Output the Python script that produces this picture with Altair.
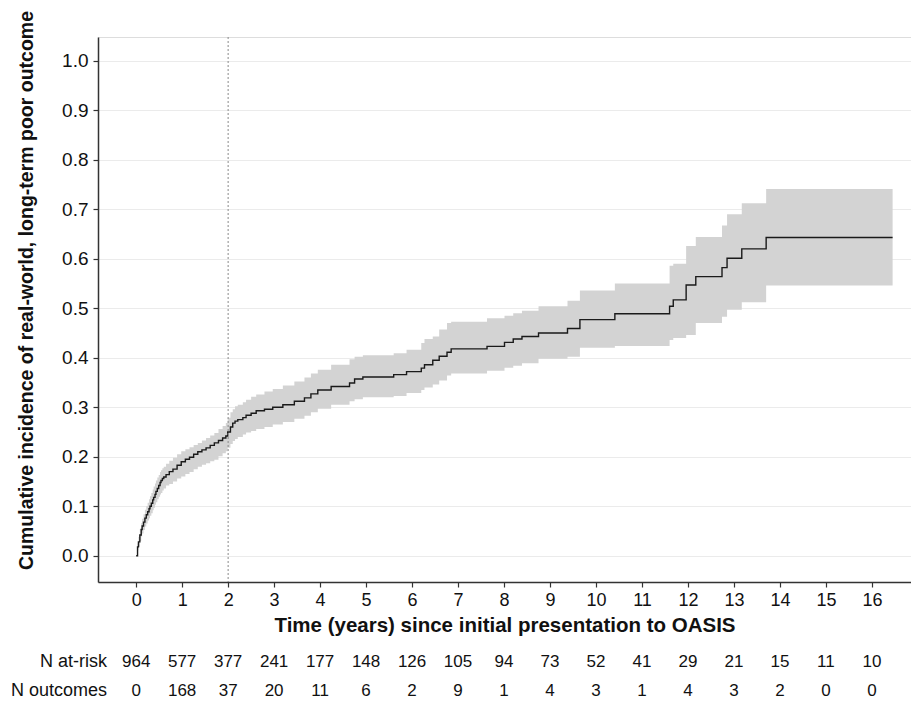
import altair as alt
import pandas as pd

# ---- data ----
time = [0.00, 0.03, 0.05, 0.08, 0.11, 0.13, 0.16, 0.19, 0.22, 0.25,
        0.28, 0.30, 0.33, 0.36, 0.38, 0.41, 0.43, 0.46, 0.49, 0.52,
        0.54, 0.57, 0.60, 0.65, 0.72, 0.80, 0.89, 0.98, 1.07, 1.16,
        1.25, 1.34, 1.43, 1.52, 1.61, 1.70, 1.79, 1.88, 1.95, 1.99,
        2.05, 2.10, 2.15, 2.21, 2.32, 2.39, 2.50, 2.61, 2.79, 2.97,
        3.19, 3.44, 3.66, 3.80, 3.95, 4.24, 4.64, 4.75, 4.93, 5.60,
        5.88, 6.20, 6.27, 6.45, 6.59, 6.76, 6.85, 7.63, 8.01, 8.20,
        8.39, 8.75, 9.38, 9.65, 10.41, 11.60, 11.68, 11.96, 12.17, 12.74,
        12.85, 13.17, 13.70, 16.45]
estimate = [0.000, 0.018, 0.028, 0.042, 0.053, 0.060, 0.068, 0.076, 0.083, 0.089,
            0.095, 0.100, 0.106, 0.113, 0.118, 0.124, 0.130, 0.136, 0.142, 0.148,
            0.152, 0.156, 0.159, 0.164, 0.170, 0.175, 0.183, 0.190, 0.195, 0.199,
            0.205, 0.210, 0.214, 0.218, 0.223, 0.228, 0.233, 0.238, 0.242, 0.250,
            0.260, 0.268, 0.272, 0.275, 0.279, 0.284, 0.288, 0.293, 0.296, 0.300,
            0.305, 0.312, 0.319, 0.327, 0.335, 0.342, 0.349, 0.357, 0.361, 0.366,
            0.372, 0.379, 0.386, 0.395, 0.403, 0.411, 0.418, 0.423, 0.431, 0.438,
            0.443, 0.450, 0.459, 0.477, 0.489, 0.504, 0.517, 0.547, 0.564, 0.582,
            0.601, 0.620, 0.643, 0.643]
ci_lower = [0.000, 0.011, 0.018, 0.030, 0.039, 0.045, 0.052, 0.059, 0.065, 0.071,
            0.076, 0.081, 0.086, 0.092, 0.097, 0.103, 0.108, 0.114, 0.119, 0.124,
            0.127, 0.132, 0.136, 0.142, 0.145, 0.150, 0.156, 0.160, 0.165, 0.169,
            0.175, 0.180, 0.184, 0.187, 0.191, 0.194, 0.201, 0.207, 0.211, 0.218,
            0.226, 0.232, 0.236, 0.240, 0.245, 0.249, 0.252, 0.256, 0.260, 0.265,
            0.270, 0.277, 0.283, 0.290, 0.297, 0.305, 0.312, 0.316, 0.320, 0.323,
            0.329, 0.335, 0.340, 0.346, 0.354, 0.364, 0.368, 0.374, 0.380, 0.384,
            0.389, 0.398, 0.402, 0.420, 0.424, 0.436, 0.440, 0.446, 0.470, 0.483,
            0.497, 0.512, 0.546, 0.546]
ci_upper = [0.000, 0.025, 0.038, 0.054, 0.066, 0.075, 0.084, 0.093, 0.100, 0.107,
            0.114, 0.120, 0.127, 0.134, 0.140, 0.146, 0.152, 0.158, 0.163, 0.169,
            0.173, 0.177, 0.180, 0.186, 0.192, 0.198, 0.205, 0.211, 0.215, 0.219,
            0.224, 0.228, 0.233, 0.238, 0.243, 0.248, 0.256, 0.262, 0.268, 0.279,
            0.290, 0.296, 0.302, 0.305, 0.310, 0.315, 0.321, 0.326, 0.332, 0.337,
            0.344, 0.352, 0.360, 0.368, 0.376, 0.386, 0.397, 0.402, 0.405, 0.409,
            0.416, 0.430, 0.438, 0.443, 0.457, 0.470, 0.473, 0.480, 0.485, 0.490,
            0.495, 0.504, 0.515, 0.536, 0.550, 0.586, 0.590, 0.626, 0.644, 0.667,
            0.690, 0.712, 0.741, 0.741]

years = list(range(17))
at_risk = [964, 577, 377, 241, 177, 148, 126, 105, 94, 73, 52, 41, 29, 21, 15, 11, 10]
outcomes = [0, 168, 37, 20, 11, 6, 2, 9, 1, 4, 3, 1, 4, 3, 2, 0, 0]
landmark_year = [2]
row_labels = ["N at-risk", "N outcomes"]
y_ticks = [0.0, 0.1, 0.2, 0.3, 0.4, 0.5, 0.6, 0.7, 0.8, 0.9, 1.0]

x_title = "Time (years) since initial presentation to OASIS"
y_title = "Cumulative incidence of real-world, long-term poor outcome"

# ---- styling ----
FONT = "Liberation Sans"
TXT = "#111111"
W, H = 813, 545

curve = pd.DataFrame({"t": time, "est": estimate, "lo": ci_lower, "hi": ci_upper})
table = pd.DataFrame({"year": years, "at_risk": at_risk, "outcomes": outcomes})

xscale = alt.Scale(domain=[-0.83, 16.85], nice=False, zero=False)
yscale = alt.Scale(domain=[-0.053, 1.048], nice=False, zero=False)

x_axis = alt.Axis(values=years, grid=False, labelFontSize=18, labelFont=FONT,
                  labelColor=TXT, tickSize=5, tickColor="#333333", tickWidth=1.2,
                  domainColor="#333333", domainWidth=1.5, labelPadding=4,
                  title=x_title, titleFont=FONT, titleFontSize=20.5,
                  titleFontWeight="bold", titleColor=TXT, titlePadding=6)
y_axis = alt.Axis(values=y_ticks, format=".1f", grid=True, gridColor="#ebebeb",
                  gridWidth=1, labelFontSize=19, labelFont=FONT, labelColor=TXT,
                  tickSize=5, tickColor="#333333", tickWidth=1.2,
                  domainColor="#333333", domainWidth=1.5, labelPadding=5,
                  title=y_title, titleFont=FONT, titleFontSize=19.5,
                  titleFontWeight="bold", titleColor=TXT,
                  titleX=-72, titleY=253, titleBaseline="middle", titleAlign="center")

band = alt.Chart(curve).mark_area(interpolate="step-after", color="#d3d3d3",
                                  opacity=1).encode(
    x=alt.X("t:Q", scale=xscale, axis=x_axis),
    y=alt.Y("lo:Q", scale=yscale, axis=y_axis),
    y2="hi:Q",
)

line = alt.Chart(curve).mark_line(interpolate="step-after", color="#1a1a1a",
                                  strokeWidth=1.4).encode(
    x=alt.X("t:Q", scale=xscale),
    y=alt.Y("est:Q", scale=yscale),
)

rule = alt.Chart(pd.DataFrame({"t": landmark_year})).mark_rule(
    color="#8a8a8a", strokeDash=[2, 2], strokeWidth=1).encode(
    x=alt.X("t:Q", scale=xscale))

risk_text = alt.Chart(table).mark_text(fontSize=17, font=FONT, color=TXT,
                                       baseline="middle").encode(
    x=alt.X("year:Q", scale=xscale), y=alt.value(H + 80), text="at_risk:Q")
out_text = alt.Chart(table).mark_text(fontSize=17, font=FONT, color=TXT,
                                      baseline="middle").encode(
    x=alt.X("year:Q", scale=xscale), y=alt.value(H + 109), text="outcomes:Q")

lab1 = alt.Chart(pd.DataFrame({"label": [row_labels[0]]})).mark_text(
    fontSize=18, font=FONT, color=TXT, align="right", baseline="middle").encode(
    x=alt.value(9), y=alt.value(H + 80), text="label:N")
lab2 = alt.Chart(pd.DataFrame({"label": [row_labels[1]]})).mark_text(
    fontSize=18, font=FONT, color=TXT, align="right", baseline="middle").encode(
    x=alt.value(9), y=alt.value(H + 109), text="label:N")

chart = alt.layer(band, line, rule, risk_text, out_text, lab1, lab2).properties(
    width=W, height=H,
    padding={"left": 2, "top": 2, "right": 0, "bottom": 0},
).configure_view(strokeWidth=0).configure(background="white")

chart.save("out.html", embed_options={"renderer": "svg", "actions": False})
